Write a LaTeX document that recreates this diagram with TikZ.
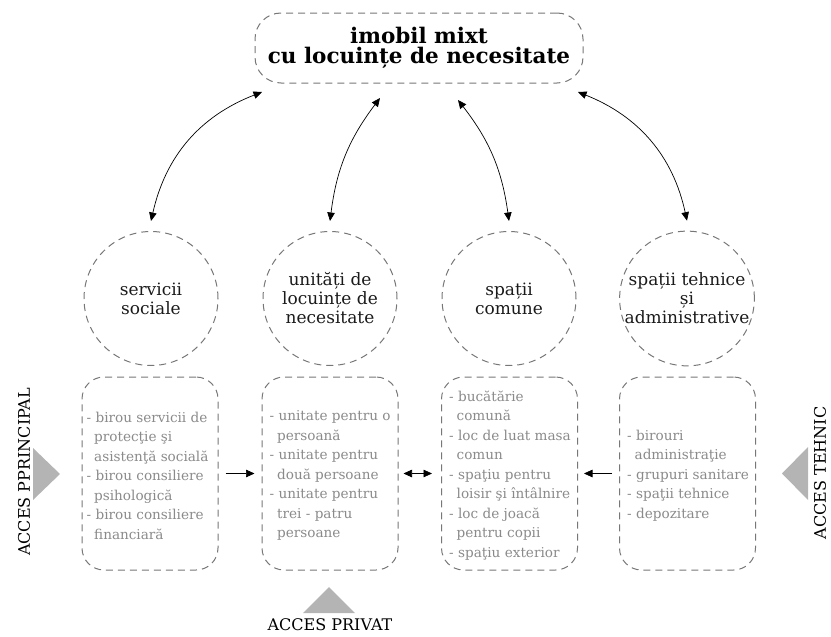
\documentclass[tikz,border=0pt]{standalone}
\usepackage{fontspec}
\setmainfont{DejaVu Serif}
\usetikzlibrary{arrows.meta}
\definecolor{dashgray}{HTML}{777777}
\definecolor{txtgray}{HTML}{8A8A8A}
\definecolor{trigray}{HTML}{B4B4B4}
\definecolor{darktxt}{HTML}{1A1A1A}
\newcommand\contl{\hspace*{0.55em}}
\begin{document}
\begin{tikzpicture}[x=1pt,y=-1pt,
  dashline/.style={draw=dashgray, line width=1pt, dash pattern=on 7pt off 5pt},
  topbox/.style={dashline, rounded corners=26pt, minimum width=328pt, minimum height=70pt, align=center, font=\bfseries\fontsize{21.5}{20}\selectfont, text=black, inner sep=0pt},
  circ/.style={dashline, circle, minimum size=134pt, inner sep=0pt, align=center, font=\fontsize{17}{19}\selectfont, text=darktxt},
  listbox/.style={dashline, rounded corners=22pt, minimum width=136pt, minimum height=193pt, inner sep=0pt},
  listtext/.style={anchor=west, align=left, inner sep=0pt, text=txtgray, font=\fontsize{13.6}{19.5}\selectfont},
  dblarrow/.style={black, line width=0.7pt, {Triangle[length=8.5pt,width=7.5pt]}-{Triangle[length=8.5pt,width=7.5pt]}},
  onearrow/.style={black, line width=0.7pt, -{Triangle[length=8.5pt,width=7.5pt]}},
  acc/.style={font=\fontsize{16}{18}\selectfont, text=black, inner sep=0pt}
]
\useasboundingbox (0,0) rectangle (831,637);

\node[topbox] (top) at (419,48) {imobil mixt\\cu locuințe de necesitate};

\node[circ] (c1) at (151,298.5) {servicii\\sociale};
\node[circ] (c2) at (330,298.5) {unități de\\locuințe de\\necesitate};
\node[circ] (c3) at (509,298.5) {spații\\comune};
\node[circ] (c4) at (687,298.5) {spații tehnice\\și\\administrative};

\node[listbox] (b1) at (150,473.5) {};
\node[listbox] (b2) at (330,473.5) {};
\node[listbox] (b3) at (509.5,473.5) {};
\node[listbox] (b4) at (687.5,473.5) {};

\node[listtext] (l1) at ([xshift=5pt,yshift=-2pt]b1.west) {- birou servicii de\\\contl protecţie şi\\\contl asistenţă socială\\- birou consiliere\\\contl psihologică\\- birou consiliere\\\contl financiară};
\node[listtext] (l2) at ([xshift=8pt,yshift=-2pt]b2.west) {- unitate pentru o\\\contl persoană\\- unitate pentru\\\contl două persoane\\- unitate pentru\\\contl trei - patru\\\contl persoane};
\node[listtext] (l3) at ([xshift=8pt,yshift=-2pt]b3.west) {- bucătărie\\\contl comună\\- loc de luat masa\\\contl comun\\- spaţiu pentru\\\contl loisir şi întâlnire\\- loc de joacă\\\contl pentru copii\\- spaţiu exterior};
\node[listtext] (l4) at ([xshift=8pt,yshift=-2pt]b4.west) {- birouri\\\contl administraţie\\- grupuri sanitare\\- spaţii tehnice\\- depozitare};

\coordinate (t1) at (262,92);
\coordinate (t2) at (380,98);
\coordinate (t3) at (458,100);
\coordinate (t4) at (578,92);

\draw[dblarrow] ([yshift=10pt]c1.north) to[bend left=28] (t1);
\draw[dblarrow] ([yshift=10pt]c2.north) to[bend left=15] (t2);
\draw[dblarrow] ([yshift=10pt]c3.north) to[bend right=15] (t3);
\draw[dblarrow] ([yshift=10pt]c4.north) to[bend right=28] (t4);

\draw[onearrow] ([xshift=7pt]b1.east) -- ([xshift=-7pt]b2.west);
\draw[dblarrow] ([xshift=5pt]b2.east) -- ([xshift=-9pt]b3.west);
\draw[onearrow] ([xshift=-7pt]b4.west) -- ([xshift=6pt]b3.east);

\fill[trigray] (33,448) -- (60,474) -- (33,500) -- cycle;
\fill[trigray] (303,613) -- (329,587) -- (355,613) -- cycle;
\fill[trigray] (808,447) -- (782,473.5) -- (808,500) -- cycle;

\node[acc, rotate=90] (aL) at (24,472) {ACCES PPRINCIPAL};
\node[acc] (aB) at (330,625) {ACCES PRIVAT};
\node[acc, rotate=90] (aR) at (820,473) {ACCES TEHNIC};
\end{tikzpicture}
\end{document}
